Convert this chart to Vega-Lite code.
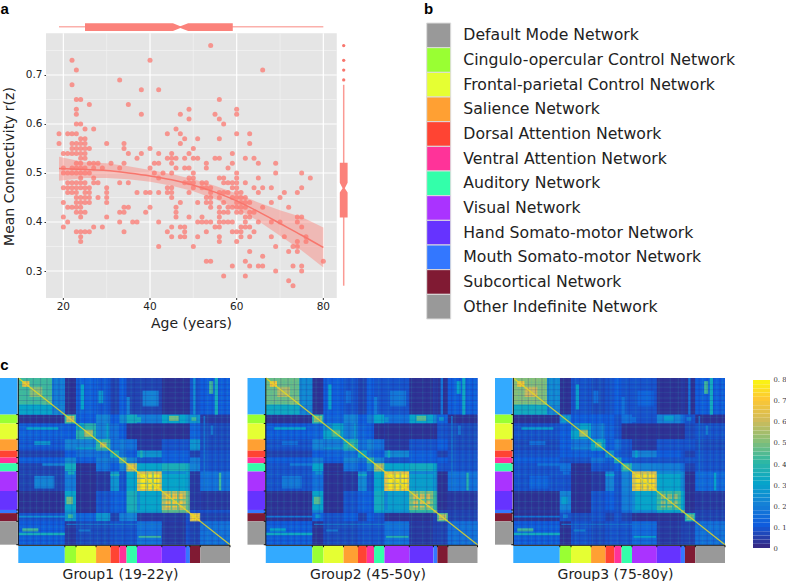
{"$schema":"https://vega.github.io/schema/vega-lite/v6.json","padding":0,"background":"white","bounds":"flush","align":"none","columns":4,"spacing":{"row":80,"column":17.5},
"config":{"view":{"stroke":null},"font":"DejaVu Sans","axis":{"grid":false}},
"datasets":{
"nets":[{"n":"Default Mode Network","s":0,"e":58},{"n":"Cingulo-opercular Control Network","s":58,"e":72},{"n":"Frontal-parietal Control Network","s":72,"e":97},{"n":"Salience Network","s":97,"e":115},{"n":"Dorsal Attention Network","s":115,"e":126},{"n":"Ventral Attention Network","s":126,"e":135},{"n":"Auditory Network","s":135,"e":148},{"n":"Visual Network","s":148,"e":179},{"n":"Hand Somato-motor Network","s":179,"e":209},{"n":"Mouth Somato-motor Network","s":209,"e":214},{"n":"Subcortical Network","s":214,"e":227},{"n":"Other Indefinite Network","s":227,"e":264}],
"sl":[{"p":6,"P":7.5},{"p":14,"P":15.5},{"p":22,"P":23.5},{"p":31,"P":32.5},{"p":38,"P":39.5},{"p":47,"P":48.5},{"p":53,"P":54.5},{"p":62,"P":63.5},{"p":77,"P":78.5},{"p":89,"P":90.5},{"p":98,"P":99.5},{"p":107,"P":109},{"p":121,"P":122.5},{"p":129,"P":130.5},{"p":140,"P":141.5},{"p":152,"P":153.5},{"p":166,"P":167.5},{"p":181,"P":182.5},{"p":195,"P":196.5},{"p":205,"P":206.5},{"p":219,"P":220.5},{"p":235,"P":237},{"p":245,"P":246.5},{"p":253,"P":254.5},{"p":260,"P":261.5}],
"sd":[{"p":10,"P":11.5},{"p":18,"P":19.5},{"p":27,"P":28.5},{"p":35,"P":36.5},{"p":43,"P":44.5},{"p":50,"P":51.5},{"p":66,"P":67.5},{"p":74,"P":76},{"p":82,"P":83.5},{"p":93,"P":94.5},{"p":103,"P":104.5},{"p":112,"P":113.5},{"p":118,"P":119.5},{"p":132,"P":133.5},{"p":144,"P":145.5},{"p":158,"P":159.5},{"p":172,"P":173.5},{"p":186,"P":187.5},{"p":200,"P":201.5},{"p":212,"P":213.5},{"p":222,"P":223.5},{"p":231,"P":232.5},{"p":241,"P":242.5},{"p":249,"P":250.5},{"p":257,"P":258.5}],
"heat":[
{"x":0,"X":58,"y":0,"Y":58,"a":0.3,"b":0.32,"c":0.33},{"x":0,"X":58,"y":58,"Y":72,"a":0.015,"b":0.015,"c":0.015},{"x":0,"X":58,"y":72,"Y":97,"a":0.11,"b":0.1,"c":0.08},{"x":0,"X":58,"y":97,"Y":115,"a":0.09,"b":0.08,"c":0.065},{"x":0,"X":58,"y":115,"Y":126,"a":0.05,"b":0.05,"c":0.08},{"x":0,"X":58,"y":126,"Y":135,"a":0.1,"b":0.1,"c":0.1},{"x":0,"X":58,"y":135,"Y":148,"a":0.05,"b":0.08,"c":0.08},{"x":0,"X":58,"y":148,"Y":179,"a":0.05,"b":0.08,"c":0.08},{"x":0,"X":58,"y":179,"Y":209,"a":0.015,"b":0.015,"c":0.015},{"x":0,"X":58,"y":209,"Y":214,"a":0.015,"b":0.03,"c":0.03},{"x":0,"X":58,"y":214,"Y":227,"a":0.08,"b":0.015,"c":0.015},{"x":0,"X":58,"y":227,"Y":264,"a":0.1,"b":0.1,"c":0.1},
{"x":58,"X":72,"y":58,"Y":72,"a":0.4,"b":0.38,"c":0.2},{"x":58,"X":72,"y":72,"Y":97,"a":0.1,"b":0.12,"c":0.1},{"x":58,"X":72,"y":97,"Y":115,"a":0.2,"b":0.2,"c":0.1},{"x":58,"X":72,"y":115,"Y":126,"a":0.1,"b":0.1,"c":0.1},{"x":58,"X":72,"y":126,"Y":135,"a":0.22,"b":0.18,"c":0.08},{"x":58,"X":72,"y":135,"Y":148,"a":0.33,"b":0.3,"c":0.15},{"x":58,"X":72,"y":148,"Y":179,"a":0.18,"b":0.15,"c":0.08},{"x":58,"X":72,"y":179,"Y":209,"a":0.3,"b":0.3,"c":0.2},{"x":58,"X":72,"y":209,"Y":214,"a":0.25,"b":0.22,"c":0.15},{"x":58,"X":72,"y":214,"Y":227,"a":0.25,"b":0.12,"c":0.08},{"x":58,"X":72,"y":227,"Y":264,"a":0.03,"b":0.015,"c":0.015},
{"x":72,"X":97,"y":72,"Y":97,"a":0.38,"b":0.3,"c":0.3},{"x":72,"X":97,"y":97,"Y":115,"a":0.2,"b":0.18,"c":0.16},{"x":72,"X":97,"y":115,"Y":126,"a":0.15,"b":0.12,"c":0.11},{"x":72,"X":97,"y":126,"Y":135,"a":0.1,"b":0.1,"c":0.08},{"x":72,"X":97,"y":135,"Y":148,"a":0.015,"b":0.015,"c":0.015},{"x":72,"X":97,"y":148,"Y":179,"a":0.015,"b":0.015,"c":0.015},{"x":72,"X":97,"y":179,"Y":209,"a":0.015,"b":0.015,"c":0.015},{"x":72,"X":97,"y":209,"Y":214,"a":0.015,"b":0.015,"c":0.015},{"x":72,"X":97,"y":214,"Y":227,"a":0.12,"b":0.08,"c":0.065},{"x":72,"X":97,"y":227,"Y":264,"a":0.065,"b":0.065,"c":0.08},
{"x":97,"X":115,"y":97,"Y":115,"a":0.4,"b":0.35,"c":0.3},{"x":97,"X":115,"y":115,"Y":126,"a":0.15,"b":0.15,"c":0.1},{"x":97,"X":115,"y":126,"Y":135,"a":0.18,"b":0.2,"c":0.15},{"x":97,"X":115,"y":135,"Y":148,"a":0.15,"b":0.15,"c":0.08},{"x":97,"X":115,"y":148,"Y":179,"a":0.03,"b":0.03,"c":0.03},{"x":97,"X":115,"y":179,"Y":209,"a":0.08,"b":0.08,"c":0.08},{"x":97,"X":115,"y":209,"Y":214,"a":0.08,"b":0.08,"c":0.08},{"x":97,"X":115,"y":214,"Y":227,"a":0.25,"b":0.1,"c":0.08},{"x":97,"X":115,"y":227,"Y":264,"a":0.065,"b":0.065,"c":0.065},
{"x":115,"X":126,"y":115,"Y":126,"a":0.33,"b":0.3,"c":0.25},{"x":115,"X":126,"y":126,"Y":135,"a":0.16,"b":0.15,"c":0.11},{"x":115,"X":126,"y":135,"Y":148,"a":0.1,"b":0.1,"c":0.08},{"x":115,"X":126,"y":148,"Y":179,"a":0.25,"b":0.22,"c":0.2},{"x":115,"X":126,"y":179,"Y":209,"a":0.11,"b":0.11,"c":0.1},{"x":115,"X":126,"y":209,"Y":214,"a":0.11,"b":0.1,"c":0.08},{"x":115,"X":126,"y":214,"Y":227,"a":0.05,"b":0.05,"c":0.05},{"x":115,"X":126,"y":227,"Y":264,"a":0.08,"b":0.08,"c":0.08},
{"x":126,"X":135,"y":126,"Y":135,"a":0.45,"b":0.4,"c":0.35},{"x":126,"X":135,"y":135,"Y":148,"a":0.2,"b":0.2,"c":0.1},{"x":126,"X":135,"y":148,"Y":179,"a":0.08,"b":0.08,"c":0.08},{"x":126,"X":135,"y":179,"Y":209,"a":0.1,"b":0.1,"c":0.08},{"x":126,"X":135,"y":209,"Y":214,"a":0.1,"b":0.1,"c":0.08},{"x":126,"X":135,"y":214,"Y":227,"a":0.18,"b":0.1,"c":0.08},{"x":126,"X":135,"y":227,"Y":264,"a":0.08,"b":0.08,"c":0.08},
{"x":135,"X":148,"y":135,"Y":148,"a":0.55,"b":0.5,"c":0.35},{"x":135,"X":148,"y":148,"Y":179,"a":0.3,"b":0.3,"c":0.2},{"x":135,"X":148,"y":179,"Y":209,"a":0.35,"b":0.33,"c":0.18},{"x":135,"X":148,"y":209,"Y":214,"a":0.33,"b":0.3,"c":0.15},{"x":135,"X":148,"y":214,"Y":227,"a":0.2,"b":0.08,"c":0.05},{"x":135,"X":148,"y":227,"Y":264,"a":0.08,"b":0.08,"c":0.08},
{"x":148,"X":179,"y":148,"Y":179,"a":0.62,"b":0.65,"c":0.62},{"x":148,"X":179,"y":179,"Y":209,"a":0.3,"b":0.28,"c":0.3},{"x":148,"X":179,"y":209,"Y":214,"a":0.28,"b":0.25,"c":0.22},{"x":148,"X":179,"y":214,"Y":227,"a":0.03,"b":0.015,"c":0.015},{"x":148,"X":179,"y":227,"Y":264,"a":0.15,"b":0.15,"c":0.13},
{"x":179,"X":209,"y":179,"Y":209,"a":0.58,"b":0.5,"c":0.42},{"x":179,"X":209,"y":209,"Y":214,"a":0.45,"b":0.4,"c":0.3},{"x":179,"X":209,"y":214,"Y":227,"a":0.03,"b":0.015,"c":0.015},{"x":179,"X":209,"y":227,"Y":264,"a":0.03,"b":0.03,"c":0.03},
{"x":209,"X":214,"y":209,"Y":214,"a":0.5,"b":0.5,"c":0.45},{"x":209,"X":214,"y":214,"Y":227,"a":0.08,"b":0.05,"c":0.03},{"x":209,"X":214,"y":227,"Y":264,"a":0.08,"b":0.05,"c":0.05},
{"x":214,"X":227,"y":214,"Y":227,"a":0.6,"b":0.45,"c":0.35},{"x":214,"X":227,"y":227,"Y":264,"a":0.05,"b":0.05,"c":0.05},{"x":227,"X":264,"y":227,"Y":264,"a":0.15,"b":0.15,"c":0.15},
{"x":0,"X":42,"y":0,"Y":42,"a":0.42,"b":0.47,"c":0.5},{"x":5,"X":14,"y":5,"Y":14,"a":0.68,"b":0.7,"c":0.7},{"x":14,"X":30,"y":14,"Y":30,"a":0.5,"b":0.56,"c":0.6},{"x":30,"X":42,"y":30,"Y":42,"a":0.45,"b":0.5,"c":0.5},{"x":42,"X":58,"y":42,"Y":58,"a":0.2,"b":0.2,"c":0.2},{"x":0,"X":42,"y":42,"Y":58,"a":0.18,"b":0.22,"c":0.22},
{"x":0,"X":58,"y":245,"Y":249,"a":0.34,"b":0.32,"c":0.33},{"x":5,"X":25,"y":238,"Y":243,"a":0.42,"b":0.3,"c":0.42},{"x":10,"X":50,"y":78,"Y":82,"a":0.3,"b":0.3,"c":0.28},{"x":20,"X":40,"y":100,"Y":106,"a":0.26,"b":0.15,"c":0.15},{"x":20,"X":45,"y":155,"Y":175,"a":0.2,"b":0.17,"c":0.12},{"x":0,"X":58,"y":218,"Y":221,"a":0.22,"b":0.15,"c":0.14},{"x":30,"X":58,"y":135,"Y":139,"a":0.2,"b":0.18,"c":0.16},
{"x":60,"X":70,"y":60,"Y":70,"a":0.58,"b":0.5,"c":0.28},{"x":60,"X":68,"y":188,"Y":200,"a":0.48,"b":0.45,"c":0.28},{"x":62,"X":68,"y":216,"Y":222,"a":0.42,"b":0.25,"c":0.18},{"x":82,"X":93,"y":82,"Y":93,"a":0.54,"b":0.42,"c":0.52},{"x":72,"X":82,"y":72,"Y":82,"a":0.3,"b":0.22,"c":0.22},{"x":102,"X":110,"y":102,"Y":110,"a":0.58,"b":0.42,"c":0.46},{"x":137,"X":146,"y":137,"Y":146,"a":0.65,"b":0.58,"c":0.45},
{"x":152,"X":176,"y":152,"Y":176,"a":0.76,"b":0.76,"c":0.74},{"x":148,"X":179,"y":160,"Y":162,"a":0.52,"b":0.55,"c":0.55},{"x":148,"X":179,"y":167,"Y":169,"a":0.5,"b":0.55,"c":0.56},{"x":158,"X":160,"y":148,"Y":179,"a":0.54,"b":0.56,"c":0.56},{"x":166,"X":168,"y":148,"Y":179,"a":0.52,"b":0.55,"c":0.56},
{"x":184,"X":205,"y":184,"Y":205,"a":0.68,"b":0.62,"c":0.52},{"x":179,"X":209,"y":190,"Y":192,"a":0.46,"b":0.42,"c":0.36},{"x":179,"X":209,"y":198,"Y":200,"a":0.46,"b":0.42,"c":0.36},{"x":192,"X":194,"y":179,"Y":209,"a":0.44,"b":0.42,"c":0.35},{"x":200,"X":202,"y":179,"Y":209,"a":0.44,"b":0.4,"c":0.35},
{"x":216,"X":225,"y":216,"Y":225,"a":0.72,"b":0.58,"c":0.48},{"x":150,"X":178,"y":250,"Y":253,"a":0.42,"b":0.38,"c":0.3},{"x":115,"X":126,"y":152,"Y":155,"a":0.36,"b":0.33,"c":0.3},{"x":60,"X":179,"y":231,"Y":233,"a":0.2,"b":0.2,"c":0.18},{"x":72,"X":97,"y":110,"Y":113,"a":0.3,"b":0.26,"c":0.22},{"x":75,"X":90,"y":240,"Y":243,"a":0.2,"b":0.2,"c":0.22},{"x":148,"X":152,"y":179,"Y":209,"a":0.22,"b":0.2,"c":0.22},{"x":62,"X":70,"y":148,"Y":153,"a":0.34,"b":0.24,"c":0.14}
],
"scatter":[{"a":19,"r":0.58},{"a":19,"r":0.56},{"a":20,"r":0.54},{"a":20,"r":0.51},{"a":20,"r":0.5},{"a":20,"r":0.47},{"a":20,"r":0.44},{"a":20,"r":0.41},{"a":20,"r":0.39},{"a":21,"r":0.58},{"a":21,"r":0.54},{"a":21,"r":0.5},{"a":21,"r":0.48},{"a":21,"r":0.47},{"a":21,"r":0.46},{"a":21,"r":0.43},{"a":21,"r":0.4},{"a":22,"r":0.73},{"a":22,"r":0.68},{"a":22,"r":0.58},{"a":22,"r":0.56},{"a":22,"r":0.55},{"a":22,"r":0.54},{"a":22,"r":0.51},{"a":22,"r":0.5},{"a":22,"r":0.48},{"a":22,"r":0.47},{"a":22,"r":0.46},{"a":22,"r":0.43},{"a":23,"r":0.71},{"a":23,"r":0.65},{"a":23,"r":0.63},{"a":23,"r":0.62},{"a":23,"r":0.6},{"a":23,"r":0.58},{"a":23,"r":0.56},{"a":23,"r":0.55},{"a":23,"r":0.54},{"a":23,"r":0.52},{"a":23,"r":0.51},{"a":23,"r":0.5},{"a":23,"r":0.48},{"a":23,"r":0.47},{"a":23,"r":0.46},{"a":23,"r":0.45},{"a":23,"r":0.44},{"a":23,"r":0.43},{"a":23,"r":0.42},{"a":23,"r":0.38},{"a":24,"r":0.65},{"a":24,"r":0.6},{"a":24,"r":0.57},{"a":24,"r":0.56},{"a":24,"r":0.55},{"a":24,"r":0.54},{"a":24,"r":0.53},{"a":24,"r":0.52},{"a":24,"r":0.51},{"a":24,"r":0.5},{"a":24,"r":0.49},{"a":24,"r":0.48},{"a":24,"r":0.47},{"a":24,"r":0.45},{"a":24,"r":0.44},{"a":24,"r":0.43},{"a":24,"r":0.42},{"a":24,"r":0.41},{"a":24,"r":0.38},{"a":24,"r":0.37},{"a":24,"r":0.36},{"a":25,"r":0.59},{"a":25,"r":0.57},{"a":25,"r":0.56},{"a":25,"r":0.55},{"a":25,"r":0.54},{"a":25,"r":0.53},{"a":25,"r":0.51},{"a":25,"r":0.5},{"a":25,"r":0.48},{"a":25,"r":0.47},{"a":25,"r":0.46},{"a":25,"r":0.45},{"a":25,"r":0.44},{"a":25,"r":0.42},{"a":25,"r":0.38},{"a":26,"r":0.64},{"a":26,"r":0.55},{"a":26,"r":0.52},{"a":26,"r":0.5},{"a":26,"r":0.47},{"a":26,"r":0.46},{"a":26,"r":0.45},{"a":26,"r":0.44},{"a":26,"r":0.38},{"a":27,"r":0.59},{"a":27,"r":0.52},{"a":27,"r":0.51},{"a":27,"r":0.49},{"a":27,"r":0.48},{"a":27,"r":0.39},{"a":28,"r":0.52},{"a":28,"r":0.48},{"a":28,"r":0.45},{"a":29,"r":0.51},{"a":29,"r":0.39},{"a":30,"r":0.56},{"a":30,"r":0.47},{"a":30,"r":0.46},{"a":30,"r":0.45},{"a":30,"r":0.44},{"a":30,"r":0.41},{"a":31,"r":0.52},{"a":33,"r":0.69},{"a":33,"r":0.51},{"a":33,"r":0.48},{"a":33,"r":0.42},{"a":33,"r":0.4},{"a":34,"r":0.56},{"a":34,"r":0.55},{"a":34,"r":0.52},{"a":34,"r":0.43},{"a":34,"r":0.42},{"a":34,"r":0.38},{"a":35,"r":0.64},{"a":35,"r":0.54},{"a":35,"r":0.48},{"a":35,"r":0.43},{"a":36,"r":0.4},{"a":37,"r":0.53},{"a":37,"r":0.46},{"a":37,"r":0.4},{"a":38,"r":0.67},{"a":38,"r":0.62},{"a":38,"r":0.54},{"a":39,"r":0.46},{"a":39,"r":0.42},{"a":40,"r":0.73},{"a":40,"r":0.55},{"a":40,"r":0.51},{"a":40,"r":0.46},{"a":40,"r":0.43},{"a":41,"r":0.52},{"a":41,"r":0.5},{"a":42,"r":0.67},{"a":42,"r":0.54},{"a":42,"r":0.52},{"a":42,"r":0.49},{"a":42,"r":0.46},{"a":42,"r":0.4},{"a":42,"r":0.35},{"a":43,"r":0.5},{"a":44,"r":0.58},{"a":44,"r":0.53},{"a":44,"r":0.47},{"a":44,"r":0.46},{"a":44,"r":0.38},{"a":45,"r":0.54},{"a":45,"r":0.53},{"a":45,"r":0.52},{"a":45,"r":0.5},{"a":45,"r":0.47},{"a":45,"r":0.46},{"a":45,"r":0.45},{"a":45,"r":0.39},{"a":45,"r":0.37},{"a":46,"r":0.59},{"a":46,"r":0.53},{"a":46,"r":0.51},{"a":46,"r":0.43},{"a":46,"r":0.42},{"a":46,"r":0.41},{"a":47,"r":0.62},{"a":47,"r":0.58},{"a":47,"r":0.56},{"a":47,"r":0.44},{"a":47,"r":0.39},{"a":47,"r":0.37},{"a":48,"r":0.57},{"a":48,"r":0.53},{"a":48,"r":0.51},{"a":48,"r":0.48},{"a":48,"r":0.39},{"a":48,"r":0.38},{"a":48,"r":0.37},{"a":49,"r":0.63},{"a":49,"r":0.61},{"a":49,"r":0.54},{"a":49,"r":0.51},{"a":49,"r":0.49},{"a":49,"r":0.48},{"a":49,"r":0.46},{"a":49,"r":0.41},{"a":50,"r":0.55},{"a":50,"r":0.53},{"a":50,"r":0.5},{"a":50,"r":0.49},{"a":50,"r":0.48},{"a":50,"r":0.47},{"a":50,"r":0.35},{"a":51,"r":0.57},{"a":51,"r":0.53},{"a":51,"r":0.44},{"a":51,"r":0.4},{"a":51,"r":0.37},{"a":52,"r":0.48},{"a":52,"r":0.47},{"a":52,"r":0.41},{"a":52,"r":0.4},{"a":53,"r":0.52},{"a":53,"r":0.51},{"a":53,"r":0.48},{"a":53,"r":0.47},{"a":53,"r":0.45},{"a":53,"r":0.44},{"a":53,"r":0.4},{"a":53,"r":0.38},{"a":53,"r":0.32},{"a":54,"r":0.76},{"a":54,"r":0.47},{"a":54,"r":0.46},{"a":54,"r":0.45},{"a":54,"r":0.44},{"a":54,"r":0.43},{"a":54,"r":0.4},{"a":54,"r":0.32},{"a":55,"r":0.62},{"a":55,"r":0.53},{"a":55,"r":0.39},{"a":56,"r":0.65},{"a":56,"r":0.61},{"a":56,"r":0.57},{"a":56,"r":0.53},{"a":56,"r":0.49},{"a":56,"r":0.46},{"a":56,"r":0.45},{"a":56,"r":0.43},{"a":56,"r":0.42},{"a":56,"r":0.41},{"a":56,"r":0.4},{"a":56,"r":0.39},{"a":56,"r":0.37},{"a":56,"r":0.36},{"a":57,"r":0.6},{"a":57,"r":0.49},{"a":57,"r":0.48},{"a":57,"r":0.46},{"a":57,"r":0.44},{"a":57,"r":0.42},{"a":57,"r":0.4},{"a":57,"r":0.29},{"a":58,"r":0.51},{"a":58,"r":0.48},{"a":58,"r":0.46},{"a":58,"r":0.43},{"a":58,"r":0.42},{"a":58,"r":0.4},{"a":59,"r":0.54},{"a":59,"r":0.52},{"a":59,"r":0.48},{"a":59,"r":0.47},{"a":59,"r":0.45},{"a":59,"r":0.43},{"a":59,"r":0.4},{"a":59,"r":0.38},{"a":59,"r":0.31},{"a":60,"r":0.63},{"a":60,"r":0.62},{"a":60,"r":0.58},{"a":60,"r":0.5},{"a":60,"r":0.49},{"a":60,"r":0.48},{"a":60,"r":0.47},{"a":60,"r":0.46},{"a":60,"r":0.45},{"a":60,"r":0.44},{"a":60,"r":0.43},{"a":60,"r":0.42},{"a":60,"r":0.38},{"a":60,"r":0.36},{"a":61,"r":0.46},{"a":61,"r":0.45},{"a":61,"r":0.44},{"a":61,"r":0.43},{"a":61,"r":0.42},{"a":61,"r":0.39},{"a":61,"r":0.38},{"a":61,"r":0.37},{"a":62,"r":0.53},{"a":62,"r":0.48},{"a":62,"r":0.45},{"a":62,"r":0.44},{"a":62,"r":0.43},{"a":62,"r":0.41},{"a":62,"r":0.4},{"a":62,"r":0.39},{"a":62,"r":0.32},{"a":62,"r":0.29},{"a":63,"r":0.58},{"a":63,"r":0.56},{"a":63,"r":0.44},{"a":63,"r":0.42},{"a":63,"r":0.41},{"a":63,"r":0.39},{"a":63,"r":0.37},{"a":63,"r":0.34},{"a":63,"r":0.31},{"a":64,"r":0.53},{"a":64,"r":0.47},{"a":64,"r":0.42},{"a":64,"r":0.38},{"a":65,"r":0.52},{"a":65,"r":0.49},{"a":65,"r":0.46},{"a":65,"r":0.4},{"a":65,"r":0.31},{"a":66,"r":0.71},{"a":66,"r":0.47},{"a":66,"r":0.43},{"a":66,"r":0.33},{"a":66,"r":0.31},{"a":68,"r":0.47},{"a":68,"r":0.44},{"a":68,"r":0.4},{"a":68,"r":0.37},{"a":69,"r":0.52},{"a":69,"r":0.5},{"a":69,"r":0.35},{"a":69,"r":0.3},{"a":70,"r":0.45},{"a":70,"r":0.4},{"a":71,"r":0.46},{"a":71,"r":0.37},{"a":72,"r":0.43},{"a":72,"r":0.34},{"a":72,"r":0.28},{"a":73,"r":0.35},{"a":73,"r":0.31},{"a":73,"r":0.27},{"a":74,"r":0.46},{"a":74,"r":0.41},{"a":74,"r":0.4},{"a":74,"r":0.36},{"a":74,"r":0.35},{"a":74,"r":0.34},{"a":75,"r":0.5},{"a":75,"r":0.47},{"a":75,"r":0.41},{"a":75,"r":0.39},{"a":75,"r":0.31},{"a":75,"r":0.3},{"a":76,"r":0.37},{"a":76,"r":0.36},{"a":77,"r":0.49},{"a":80,"r":0.32}],
"fit":[{"a":19,"f":0.509,"l":0.484,"h":0.533},{"a":25,"f":0.507,"l":0.49,"h":0.522},{"a":30,"f":0.505,"l":0.49,"h":0.52},{"a":35,"f":0.5,"l":0.487,"h":0.514},{"a":40,"f":0.494,"l":0.482,"h":0.506},{"a":45,"f":0.486,"l":0.474,"h":0.498},{"a":50,"f":0.475,"l":0.463,"h":0.487},{"a":55,"f":0.461,"l":0.447,"h":0.474},{"a":60,"f":0.443,"l":0.427,"h":0.458},{"a":65,"f":0.421,"l":0.402,"h":0.44},{"a":70,"f":0.397,"l":0.372,"h":0.424},{"a":75,"f":0.373,"l":0.342,"h":0.41},{"a":80,"f":0.348,"l":0.307,"h":0.389}],
"cbar":[{"v":0,"w":0.02},{"v":0.02,"w":0.04},{"v":0.04,"w":0.06},{"v":0.06,"w":0.08},{"v":0.08,"w":0.1},{"v":0.1,"w":0.12},{"v":0.12,"w":0.14},{"v":0.14,"w":0.16},{"v":0.16,"w":0.18},{"v":0.18,"w":0.2},{"v":0.2,"w":0.22},{"v":0.22,"w":0.24},{"v":0.24,"w":0.26},{"v":0.26,"w":0.28},{"v":0.28,"w":0.3},{"v":0.3,"w":0.32},{"v":0.32,"w":0.34},{"v":0.34,"w":0.36},{"v":0.36,"w":0.38},{"v":0.38,"w":0.4},{"v":0.4,"w":0.42},{"v":0.42,"w":0.44},{"v":0.44,"w":0.46},{"v":0.46,"w":0.48},{"v":0.48,"w":0.5},{"v":0.5,"w":0.52},{"v":0.52,"w":0.54},{"v":0.54,"w":0.56},{"v":0.56,"w":0.58},{"v":0.58,"w":0.6},{"v":0.6,"w":0.62},{"v":0.62,"w":0.64},{"v":0.64,"w":0.66},{"v":0.66,"w":0.68},{"v":0.68,"w":0.7},{"v":0.7,"w":0.72},{"v":0.72,"w":0.74},{"v":0.74,"w":0.76},{"v":0.76,"w":0.78},{"v":0.78,"w":0.8}]
},
"concat":[
{"width":230,"height":297,"layer":[
{"data":{"values":[{}]},"mark":{"type":"rect","color":"#e5e5e5"},"encoding":{"x":{"datum":16,"type":"quantitative","scale":{"domain":[5.38,58.46],"nice":false,"zero":false},"axis":{"values":[20],"labels":false,"ticks":false,"grid":false,"domain":false,"title":"Age (years)","titleFontSize":14,"titleFontWeight":"normal","titleColor":"#222","titleX":191,"titlePadding":18}},"x2":{"datum":83.1},"y":{"datum":0.2449,"type":"quantitative","scale":{"domain":[0.2449,0.851],"nice":false,"zero":false},"axis":{"values":[0.3,0.4,0.5,0.6,0.7],"format":".1f","grid":false,"domain":false,"offset":-46,"tickColor":"#333","tickSize":2,"labelColor":"#222","labelFontSize":10.5,"labelPadding":2,"title":"Mean Connectivity r(z)","titleFontSize":14,"titleFontWeight":"normal","titleColor":"#222","titleY":165,"titlePadding":9}},"y2":{"datum":0.785}}},
{"data":{"values":[{"g":30},{"g":50},{"g":70}]},"mark":{"type":"rule","color":"#f2f2f2","strokeWidth":0.7},"encoding":{"x":{"field":"g","type":"quantitative"},"y":{"datum":0.2449,"type":"quantitative"},"y2":{"datum":0.785}}},
{"data":{"values":[{"g":0.35},{"g":0.45},{"g":0.55},{"g":0.65},{"g":0.75}]},"mark":{"type":"rule","color":"#f2f2f2","strokeWidth":0.7},"encoding":{"y":{"field":"g","type":"quantitative"},"x":{"datum":16,"type":"quantitative"},"x2":{"datum":83.1}}},
{"data":{"values":[{"g":20},{"g":40},{"g":60},{"g":80}]},"mark":{"type":"rule","color":"#ffffff","strokeWidth":1.2},"encoding":{"x":{"field":"g","type":"quantitative"},"y":{"datum":0.2449,"type":"quantitative"},"y2":{"datum":0.785}}},
{"data":{"values":[{"g":20},{"g":40},{"g":60},{"g":80}]},"mark":{"type":"rule","color":"#333333","strokeWidth":1},"encoding":{"x":{"field":"g","type":"quantitative"},"y":{"datum":0.2449,"type":"quantitative"},"y2":{"datum":0.2408}}},
{"data":{"values":[{"g":20},{"g":40},{"g":60},{"g":80}]},"mark":{"type":"text","fontSize":10.5,"color":"#222","baseline":"top","dy":4},"encoding":{"x":{"field":"g","type":"quantitative"},"y":{"datum":0.2449,"type":"quantitative"},"text":{"field":"g","type":"quantitative","format":"d"}}},
{"data":{"values":[{"g":0.3},{"g":0.4},{"g":0.5},{"g":0.6},{"g":0.7}]},"mark":{"type":"rule","color":"#ffffff","strokeWidth":1.2},"encoding":{"y":{"field":"g","type":"quantitative"},"x":{"datum":16,"type":"quantitative"},"x2":{"datum":83.1}}},
{"data":{"name":"scatter"},"mark":{"type":"circle","color":"#fa7f78","opacity":0.8,"size":25},"encoding":{"x":{"field":"a","type":"quantitative"},"y":{"field":"r","type":"quantitative"}}},
{"data":{"name":"fit"},"mark":{"type":"area","color":"#ff786e","opacity":0.4},"encoding":{"x":{"field":"a","type":"quantitative"},"y":{"field":"l","type":"quantitative"},"y2":{"field":"h"}}},
{"data":{"name":"fit"},"mark":{"type":"line","color":"#f8766d","strokeWidth":1.5,"interpolate":"monotone"},"encoding":{"x":{"field":"a","type":"quantitative"},"y":{"field":"f","type":"quantitative"}}},
{"data":{"values":[{"lo":19,"hi":80}]},"mark":{"type":"rule","color":"#fbb0ab","strokeWidth":1.5},"encoding":{"x":{"field":"lo","type":"quantitative"},"x2":{"field":"hi"},"y":{"datum":0.7986,"type":"quantitative"}}},
{"data":{"values":[{"p":25,"u":0.8055,"d":0.7898},{"p":45.3,"u":0.8055,"d":0.7898},{"p":47,"u":0.7995,"d":0.7958},{"p":48.8,"u":0.8055,"d":0.7898},{"p":59.1,"u":0.8055,"d":0.7898}]},"mark":{"type":"area","color":"#fb827b"},"encoding":{"x":{"field":"p","type":"quantitative"},"y":{"field":"u","type":"quantitative"},"y2":{"field":"d"}}},
{"data":{"values":[{"lo":0.27,"hi":0.68}]},"mark":{"type":"rule","color":"#fb9a94","strokeWidth":1.5},"encoding":{"y":{"field":"lo","type":"quantitative"},"y2":{"field":"hi"},"x":{"datum":84.7,"type":"quantitative"}}},
{"data":{"values":[{"p":0.409,"u":83.8,"d":85.6},{"p":0.46,"u":83.8,"d":85.6},{"p":0.469,"u":84.45,"d":84.95},{"p":0.48,"u":83.8,"d":85.6},{"p":0.521,"u":83.8,"d":85.6}]},"mark":{"type":"area","color":"#fb827b","orient":"horizontal"},"encoding":{"y":{"field":"p","type":"quantitative"},"x":{"field":"u","type":"quantitative"},"x2":{"field":"d"}}},
{"data":{"values":[{"r":0.69},{"r":0.71},{"r":0.73},{"r":0.76}]},"mark":{"type":"circle","color":"#f8766d","size":11,"opacity":1},"encoding":{"y":{"field":"r","type":"quantitative"},"x":{"datum":84.7,"type":"quantitative"}}},
{"data":{"values":[{"t":"a"}]},"mark":{"type":"text","fontWeight":"bold","fontSize":15,"font":"Liberation Sans","align":"left","baseline":"middle","color":"#000"},"encoding":{"text":{"field":"t"},"x":{"datum":5.5,"type":"quantitative"},"y":{"datum":0.835,"type":"quantitative"}}}
]},
{"width":230,"height":297,"data":{"name":"nets"},"encoding":{"y":{"field":"n","type":"nominal","sort":null,"axis":null,"scale":{"range":[22,318],"paddingInner":0,"paddingOuter":0}}},"layer":[
{"mark":{"type":"rect","stroke":"#dddddd","strokeWidth":1},"encoding":{"x":{"datum":179.2,"type":"quantitative","scale":{"domain":[0,230],"nice":false,"zero":false},"axis":null},"x2":{"datum":203.2},"color":{"field":"n","type":"nominal","sort":null,"legend":null,"scale":{"domain":["Default Mode Network","Cingulo-opercular Control Network","Frontal-parietal Control Network","Salience Network","Dorsal Attention Network","Ventral Attention Network","Auditory Network","Visual Network","Hand Somato-motor Network","Mouth Somato-motor Network","Subcortical Network","Other Indefinite Network"],"range":["#999999","#99ff33","#e5ff33","#ffa033","#ff4433","#ff3399","#33ffaa","#aa33ff","#6633ff","#3377ff","#801a33","#999999"]}}}},
{"mark":{"type":"text","align":"left","baseline":"middle","fontSize":15.7,"color":"#222"},"encoding":{"text":{"field":"n"},"x":{"datum":215.8,"type":"quantitative"}}},
{"data":{"values":[{"t":"b"}]},"mark":{"type":"text","fontWeight":"bold","fontSize":15,"font":"Liberation Sans","align":"left","baseline":"middle","color":"#000"},"encoding":{"text":{"field":"t"},"x":{"datum":176.5,"type":"quantitative"},"y":{"value":8}}}
]},
{"width":230,"height":297,"data":{"values":[{}]},"mark":{"type":"rule","opacity":0},"encoding":{}},
{"width":27.5,"height":297,"data":{"values":[{}]},"mark":{"type":"rule","opacity":0},"encoding":{}},
{"width":230,"height":185,"layer":[
{"data":{"values":[{}]},"mark":{"type":"rect","color":"#1c50c8"},"encoding":{"x":{"datum":0,"type":"quantitative","scale":{"domain":[-22.8,264],"nice":false,"zero":false},"axis":{"labels":false,"ticks":false,"domain":false,"grid":false,"title":"Group1 (19-22y)","titleFontSize":14,"titleFontWeight":"normal","titleColor":"#222","titleX":120,"titlePadding":4}},"x2":{"datum":264},"y":{"datum":0,"type":"quantitative","scale":{"domain":[0,293],"reverse":true,"nice":false,"zero":false},"axis":null},"y2":{"datum":264}}},
{"data":{"name":"heat"},"mark":"rect","encoding":{"x":{"field":"x","type":"quantitative"},"x2":{"field":"X"},"y":{"field":"y","type":"quantitative"},"y2":{"field":"Y"},"color":{"field":"a","type":"quantitative","legend":null,"scale":{"domain":[0,0.1,0.2,0.3,0.4,0.5,0.6,0.7,0.8],"range":["#352a87","#0f5cdd","#1481d6","#06a4ca","#2eb7a4","#87bf77","#d1bb59","#fec832","#f9fb0e"],"interpolate":"rgb"}}}},
{"data":{"name":"heat"},"mark":"rect","encoding":{"x":{"field":"y","type":"quantitative"},"x2":{"field":"Y"},"y":{"field":"x","type":"quantitative"},"y2":{"field":"X"},"color":{"field":"a","type":"quantitative"}}},
{"data":{"name":"sl"},"mark":{"type":"rect","color":"#2ab5c0","opacity":0.14},"encoding":{"x":{"field":"p","type":"quantitative"},"x2":{"field":"P"},"y":{"datum":0,"type":"quantitative"},"y2":{"datum":264}}},
{"data":{"name":"sl"},"mark":{"type":"rect","color":"#2ab5c0","opacity":0.14},"encoding":{"y":{"field":"p","type":"quantitative"},"y2":{"field":"P"},"x":{"datum":0,"type":"quantitative"},"x2":{"datum":264}}},
{"data":{"name":"sd"},"mark":{"type":"rect","color":"#2a2a90","opacity":0.2},"encoding":{"x":{"field":"p","type":"quantitative"},"x2":{"field":"P"},"y":{"datum":0,"type":"quantitative"},"y2":{"datum":264}}},
{"data":{"name":"sd"},"mark":{"type":"rect","color":"#2a2a90","opacity":0.2},"encoding":{"y":{"field":"p","type":"quantitative"},"y2":{"field":"P"},"x":{"datum":0,"type":"quantitative"},"x2":{"datum":264}}},
{"data":{"values":[{"i":0},{"i":264}]},"mark":{"type":"line","color":"#e8d820","strokeWidth":1.2,"opacity":0.85},"encoding":{"x":{"field":"i","type":"quantitative"},"y":{"field":"i","type":"quantitative"}}},
{"data":{"name":"nets"},"mark":"rect","encoding":{"x":{"datum":-22.8,"type":"quantitative"},"x2":{"datum":-1},"y":{"field":"s","type":"quantitative"},"y2":{"field":"e"},"fill":{"field":"n","type":"nominal","sort":null,"legend":null,"scale":{"domain":["Default Mode Network","Cingulo-opercular Control Network","Frontal-parietal Control Network","Salience Network","Dorsal Attention Network","Ventral Attention Network","Auditory Network","Visual Network","Hand Somato-motor Network","Mouth Somato-motor Network","Subcortical Network","Other Indefinite Network"],"range":["#33aaff","#99ff33","#e5ff33","#ffa033","#ff4433","#ff3399","#33ffaa","#aa33ff","#6633ff","#3377ff","#801a33","#999999"]}}}},
{"data":{"name":"nets"},"mark":"rect","encoding":{"x":{"field":"s","type":"quantitative"},"x2":{"field":"e"},"y":{"datum":266,"type":"quantitative"},"y2":{"datum":293},"fill":{"field":"n","type":"nominal","sort":null,"legend":null}}},
{"data":{"values":[{}]},"mark":{"type":"rule","color":"#111","strokeWidth":1},"encoding":{"x":{"datum":0,"type":"quantitative"},"y":{"datum":0,"type":"quantitative"},"y2":{"datum":265}}},
{"data":{"values":[{}]},"mark":{"type":"rule","color":"#111","strokeWidth":1},"encoding":{"x":{"datum":0,"type":"quantitative"},"x2":{"datum":264},"y":{"datum":265,"type":"quantitative"}}},
{"data":{"name":"nets"},"mark":{"type":"rule","color":"#111","strokeWidth":1},"encoding":{"x":{"datum":-2.5,"type":"quantitative"},"x2":{"datum":0},"y":{"field":"e","type":"quantitative"}}},
{"data":{"name":"nets"},"mark":{"type":"rule","color":"#111","strokeWidth":1},"encoding":{"x":{"field":"e","type":"quantitative"},"y":{"datum":265,"type":"quantitative"},"y2":{"datum":268}}},
{"data":{"values":[{"t":"c"}]},"mark":{"type":"text","fontWeight":"bold","fontSize":15,"font":"Liberation Sans","align":"left","baseline":"middle","color":"#000"},"encoding":{"text":{"field":"t"},"x":{"datum":-22.5,"type":"quantitative"},"y":{"datum":-20,"type":"quantitative"}}}
]},
{"width":230,"height":185,"layer":[
{"data":{"values":[{}]},"mark":{"type":"rect","color":"#1c50c8"},"encoding":{"x":{"datum":0,"type":"quantitative","scale":{"domain":[-22.8,264],"nice":false,"zero":false},"axis":{"labels":false,"ticks":false,"domain":false,"grid":false,"title":"Group2 (45-50y)","titleFontSize":14,"titleFontWeight":"normal","titleColor":"#222","titleX":120,"titlePadding":4}},"x2":{"datum":264},"y":{"datum":0,"type":"quantitative","scale":{"domain":[0,293],"reverse":true,"nice":false,"zero":false},"axis":null},"y2":{"datum":264}}},
{"data":{"name":"heat"},"mark":"rect","encoding":{"x":{"field":"x","type":"quantitative"},"x2":{"field":"X"},"y":{"field":"y","type":"quantitative"},"y2":{"field":"Y"},"color":{"field":"b","type":"quantitative","legend":null,"scale":{"domain":[0,0.1,0.2,0.3,0.4,0.5,0.6,0.7,0.8],"range":["#352a87","#0f5cdd","#1481d6","#06a4ca","#2eb7a4","#87bf77","#d1bb59","#fec832","#f9fb0e"],"interpolate":"rgb"}}}},
{"data":{"name":"heat"},"mark":"rect","encoding":{"x":{"field":"y","type":"quantitative"},"x2":{"field":"Y"},"y":{"field":"x","type":"quantitative"},"y2":{"field":"X"},"color":{"field":"b","type":"quantitative"}}},
{"data":{"name":"sl"},"mark":{"type":"rect","color":"#2ab5c0","opacity":0.14},"encoding":{"x":{"field":"p","type":"quantitative"},"x2":{"field":"P"},"y":{"datum":0,"type":"quantitative"},"y2":{"datum":264}}},
{"data":{"name":"sl"},"mark":{"type":"rect","color":"#2ab5c0","opacity":0.14},"encoding":{"y":{"field":"p","type":"quantitative"},"y2":{"field":"P"},"x":{"datum":0,"type":"quantitative"},"x2":{"datum":264}}},
{"data":{"name":"sd"},"mark":{"type":"rect","color":"#2a2a90","opacity":0.2},"encoding":{"x":{"field":"p","type":"quantitative"},"x2":{"field":"P"},"y":{"datum":0,"type":"quantitative"},"y2":{"datum":264}}},
{"data":{"name":"sd"},"mark":{"type":"rect","color":"#2a2a90","opacity":0.2},"encoding":{"y":{"field":"p","type":"quantitative"},"y2":{"field":"P"},"x":{"datum":0,"type":"quantitative"},"x2":{"datum":264}}},
{"data":{"values":[{"i":0},{"i":264}]},"mark":{"type":"line","color":"#e8d820","strokeWidth":1.2,"opacity":0.85},"encoding":{"x":{"field":"i","type":"quantitative"},"y":{"field":"i","type":"quantitative"}}},
{"data":{"name":"nets"},"mark":"rect","encoding":{"x":{"datum":-22.8,"type":"quantitative"},"x2":{"datum":-1},"y":{"field":"s","type":"quantitative"},"y2":{"field":"e"},"fill":{"field":"n","type":"nominal","sort":null,"legend":null,"scale":{"domain":["Default Mode Network","Cingulo-opercular Control Network","Frontal-parietal Control Network","Salience Network","Dorsal Attention Network","Ventral Attention Network","Auditory Network","Visual Network","Hand Somato-motor Network","Mouth Somato-motor Network","Subcortical Network","Other Indefinite Network"],"range":["#33aaff","#99ff33","#e5ff33","#ffa033","#ff4433","#ff3399","#33ffaa","#aa33ff","#6633ff","#3377ff","#801a33","#999999"]}}}},
{"data":{"name":"nets"},"mark":"rect","encoding":{"x":{"field":"s","type":"quantitative"},"x2":{"field":"e"},"y":{"datum":266,"type":"quantitative"},"y2":{"datum":293},"fill":{"field":"n","type":"nominal","sort":null,"legend":null}}},
{"data":{"values":[{}]},"mark":{"type":"rule","color":"#111","strokeWidth":1},"encoding":{"x":{"datum":0,"type":"quantitative"},"y":{"datum":0,"type":"quantitative"},"y2":{"datum":265}}},
{"data":{"values":[{}]},"mark":{"type":"rule","color":"#111","strokeWidth":1},"encoding":{"x":{"datum":0,"type":"quantitative"},"x2":{"datum":264},"y":{"datum":265,"type":"quantitative"}}},
{"data":{"name":"nets"},"mark":{"type":"rule","color":"#111","strokeWidth":1},"encoding":{"x":{"datum":-2.5,"type":"quantitative"},"x2":{"datum":0},"y":{"field":"e","type":"quantitative"}}},
{"data":{"name":"nets"},"mark":{"type":"rule","color":"#111","strokeWidth":1},"encoding":{"x":{"field":"e","type":"quantitative"},"y":{"datum":265,"type":"quantitative"},"y2":{"datum":268}}}
]},
{"width":230,"height":185,"layer":[
{"data":{"values":[{}]},"mark":{"type":"rect","color":"#1c50c8"},"encoding":{"x":{"datum":0,"type":"quantitative","scale":{"domain":[-22.8,264],"nice":false,"zero":false},"axis":{"labels":false,"ticks":false,"domain":false,"grid":false,"title":"Group3 (75-80y)","titleFontSize":14,"titleFontWeight":"normal","titleColor":"#222","titleX":120,"titlePadding":4}},"x2":{"datum":264},"y":{"datum":0,"type":"quantitative","scale":{"domain":[0,293],"reverse":true,"nice":false,"zero":false},"axis":null},"y2":{"datum":264}}},
{"data":{"name":"heat"},"mark":"rect","encoding":{"x":{"field":"x","type":"quantitative"},"x2":{"field":"X"},"y":{"field":"y","type":"quantitative"},"y2":{"field":"Y"},"color":{"field":"c","type":"quantitative","legend":null,"scale":{"domain":[0,0.1,0.2,0.3,0.4,0.5,0.6,0.7,0.8],"range":["#352a87","#0f5cdd","#1481d6","#06a4ca","#2eb7a4","#87bf77","#d1bb59","#fec832","#f9fb0e"],"interpolate":"rgb"}}}},
{"data":{"name":"heat"},"mark":"rect","encoding":{"x":{"field":"y","type":"quantitative"},"x2":{"field":"Y"},"y":{"field":"x","type":"quantitative"},"y2":{"field":"X"},"color":{"field":"c","type":"quantitative"}}},
{"data":{"name":"sl"},"mark":{"type":"rect","color":"#2ab5c0","opacity":0.14},"encoding":{"x":{"field":"p","type":"quantitative"},"x2":{"field":"P"},"y":{"datum":0,"type":"quantitative"},"y2":{"datum":264}}},
{"data":{"name":"sl"},"mark":{"type":"rect","color":"#2ab5c0","opacity":0.14},"encoding":{"y":{"field":"p","type":"quantitative"},"y2":{"field":"P"},"x":{"datum":0,"type":"quantitative"},"x2":{"datum":264}}},
{"data":{"name":"sd"},"mark":{"type":"rect","color":"#2a2a90","opacity":0.2},"encoding":{"x":{"field":"p","type":"quantitative"},"x2":{"field":"P"},"y":{"datum":0,"type":"quantitative"},"y2":{"datum":264}}},
{"data":{"name":"sd"},"mark":{"type":"rect","color":"#2a2a90","opacity":0.2},"encoding":{"y":{"field":"p","type":"quantitative"},"y2":{"field":"P"},"x":{"datum":0,"type":"quantitative"},"x2":{"datum":264}}},
{"data":{"values":[{"i":0},{"i":264}]},"mark":{"type":"line","color":"#e8d820","strokeWidth":1.2,"opacity":0.85},"encoding":{"x":{"field":"i","type":"quantitative"},"y":{"field":"i","type":"quantitative"}}},
{"data":{"name":"nets"},"mark":"rect","encoding":{"x":{"datum":-22.8,"type":"quantitative"},"x2":{"datum":-1},"y":{"field":"s","type":"quantitative"},"y2":{"field":"e"},"fill":{"field":"n","type":"nominal","sort":null,"legend":null,"scale":{"domain":["Default Mode Network","Cingulo-opercular Control Network","Frontal-parietal Control Network","Salience Network","Dorsal Attention Network","Ventral Attention Network","Auditory Network","Visual Network","Hand Somato-motor Network","Mouth Somato-motor Network","Subcortical Network","Other Indefinite Network"],"range":["#33aaff","#99ff33","#e5ff33","#ffa033","#ff4433","#ff3399","#33ffaa","#aa33ff","#6633ff","#3377ff","#801a33","#999999"]}}}},
{"data":{"name":"nets"},"mark":"rect","encoding":{"x":{"field":"s","type":"quantitative"},"x2":{"field":"e"},"y":{"datum":266,"type":"quantitative"},"y2":{"datum":293},"fill":{"field":"n","type":"nominal","sort":null,"legend":null}}},
{"data":{"values":[{}]},"mark":{"type":"rule","color":"#111","strokeWidth":1},"encoding":{"x":{"datum":0,"type":"quantitative"},"y":{"datum":0,"type":"quantitative"},"y2":{"datum":265}}},
{"data":{"values":[{}]},"mark":{"type":"rule","color":"#111","strokeWidth":1},"encoding":{"x":{"datum":0,"type":"quantitative"},"x2":{"datum":264},"y":{"datum":265,"type":"quantitative"}}},
{"data":{"name":"nets"},"mark":{"type":"rule","color":"#111","strokeWidth":1},"encoding":{"x":{"datum":-2.5,"type":"quantitative"},"x2":{"datum":0},"y":{"field":"e","type":"quantitative"}}},
{"data":{"name":"nets"},"mark":{"type":"rule","color":"#111","strokeWidth":1},"encoding":{"x":{"field":"e","type":"quantitative"},"y":{"datum":265,"type":"quantitative"},"y2":{"datum":268}}}
]},
{"width":27.5,"height":185,"data":{"name":"cbar"},"mark":"rect","encoding":{"y":{"field":"v","type":"quantitative","scale":{"domain":[-0.0714,0.8095],"nice":false,"zero":false},"axis":{"orient":"right","values":[0,0.1,0.2,0.3,0.4,0.5,0.6,0.7,0.8],"labelExpr":"datum.value==0?'0':'0. '+round(datum.value*10)","title":null,"domain":false,"ticks":false,"labelFont":"DejaVu Serif","labelFontSize":6.8,"labelColor":"#333","labelPadding":3}},"y2":{"field":"w"},"x":{"datum":0,"type":"quantitative","scale":{"domain":[-0.62,1],"nice":false,"zero":false},"axis":null},"x2":{"datum":1},"color":{"field":"v","type":"quantitative","legend":null,"scale":{"domain":[0,0.1,0.2,0.3,0.4,0.5,0.6,0.7,0.8],"range":["#352a87","#0f5cdd","#1481d6","#06a4ca","#2eb7a4","#87bf77","#d1bb59","#fec832","#f9fb0e"],"interpolate":"rgb"}}}}
],
"resolve":{"scale":{"color":"independent","fill":"independent"}}}
